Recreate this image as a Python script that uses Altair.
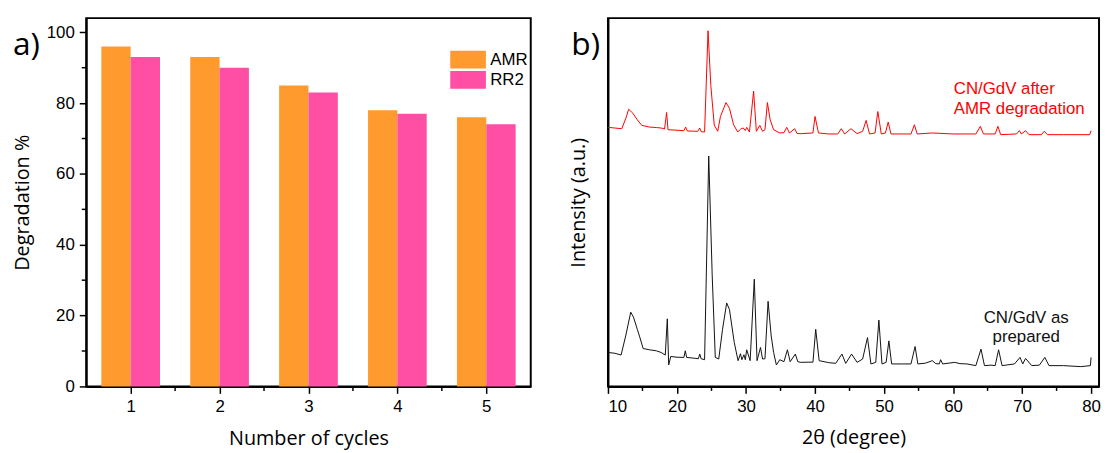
import altair as alt
import pandas as pd

# ---------------- panel a: degradation per cycle ----------------
cycles = [1, 2, 3, 4, 5]
amr = [96, 93, 85, 78, 76]
rr2 = [93, 90, 83, 77, 74]
series_names = ["AMR", "RR2"]
series_colors = ["#FF9A2F", "#FF4FA5"]

a_y_major = [0, 20, 40, 60, 80, 100]
a_y_minor = [10, 30, 50, 70, 90]
a_x_minor = [1.5, 2.5, 3.5, 4.5]

# ---------------- panel b: XRD patterns ----------------
theta_prep = [10.0, 11.0, 11.9, 12.6, 13.3, 13.7, 14.25, 14.6, 15.1, 16.0, 17.0, 17.7, 18.3, 18.6, 18.8,
              19.1, 20.0, 21.0, 21.2, 21.4, 22.5, 23.1, 23.3, 23.5, 24.0, 24.6, 25.1, 25.55, 26.05, 26.6,
              27.2, 27.6, 28.3, 28.85, 29.2, 29.4, 29.7, 29.9, 30.1, 30.6, 31.2, 31.6, 32.1, 32.4, 32.75,
              33.2, 33.65, 34.0, 34.4, 34.9, 35.5, 36.0, 36.4, 37.15, 37.5, 37.95, 39.0, 39.7, 40.1, 40.6,
              42.0, 43.0, 43.9, 44.45, 45.3, 46.1, 46.9, 47.6, 48.1, 48.8, 49.25, 49.7, 50.3, 50.7, 51.1,
              52.5, 53.9, 54.5, 54.9, 56.0, 57.0, 57.5, 58.0, 58.2, 58.5, 60.25, 61.0, 62.0, 63.3, 64.05,
              64.55, 65.5, 66.1, 66.6, 67.1, 68.9, 69.7, 70.1, 70.5, 71.4, 72.5, 73.3, 73.9, 76.0, 78.5,
              79.9, 80.0]
int_prep = [34.3, 33.5, 31.7, 52, 75, 70, 57.7, 50, 38.3, 37, 36, 34.3, 31.7, 68.3, 21.7,
            30.3, 29.5, 29.3, 36, 29.3, 28.5, 28, 32.7, 28, 27, 232.7, 112.7, 29.3, 27.7, 57.7,
            84.3, 77.7, 44.3, 26, 33, 27, 32, 27, 37, 26, 108.3, 26, 39.3, 27.7, 28,
            86, 51, 34.3, 21.7, 27, 25, 37, 25, 32.7, 25, 24.3, 24.5, 24.5, 57.7, 26,
            24, 23.3, 32.7, 23.3, 32.7, 24.3, 27.7, 49.3, 22.7, 24.3, 67, 22.7, 24.3, 46, 22.7,
            22.7, 22.7, 40.3, 22.7, 23.5, 26, 23, 22.7, 27, 22.7, 24.3, 23, 22.7, 21, 37.7,
            21, 21.5, 21, 37, 21, 22.7, 29.3, 22.7, 28.3, 21, 21.5, 29.3, 21, 21, 20,
            21, 29.3]

theta_after = [10.0, 11.0, 12.0, 12.6, 13.0, 13.6, 14.25, 14.9, 16.0, 17.0, 17.7, 18.2, 18.5, 18.7, 19.5,
               21.0, 21.25, 21.5, 23.0, 23.3, 23.5, 24.0, 24.5, 24.9, 25.4, 25.9, 26.3, 27.1, 27.6, 28.2,
               28.8, 29.3, 29.6, 29.9, 30.1, 30.5, 31.1, 31.5, 32.0, 32.4, 32.75, 33.1, 33.5, 34.0, 34.9,
               35.5, 35.9, 36.3, 37.05, 37.4, 38.0, 39.7, 40.0, 40.5, 42.0, 43.3, 43.8, 44.3, 45.2, 46.1,
               46.9, 47.4, 47.9, 48.7, 49.1, 49.6, 50.2, 50.6, 51.0, 53.9, 54.4, 54.8, 57.0, 60.0, 63.3,
               63.95, 64.4, 66.1, 66.5, 66.9, 69.2, 69.6, 69.9, 70.5, 71.0, 72.8, 73.2, 73.7, 76.0, 79.8,
               80.0]
int_after = [261.7, 261, 260.3, 271, 280, 276, 269.3, 263.7, 262, 261.5, 261, 260, 276.7, 259.3, 259,
             258.3, 262, 258, 257.7, 261, 257.3, 257, 359.3, 304, 264, 257.7, 272.7, 286.7, 281, 264.3,
             257, 260.5, 261, 258.5, 261.7, 257, 298.3, 257.7, 263.7, 257.7, 259.3, 286.7, 269.3, 259.3, 256,
             256.3, 261.7, 256, 260.3, 255.5, 255.3, 256, 272.7, 256, 255, 255, 260.3, 255, 260.3, 255.3,
             257.7, 268.7, 255, 256, 277.7, 255, 256, 267, 255, 255, 264.3, 255, 256, 255, 255,
             262.7, 255, 255, 262.7, 254.3, 255, 258.3, 255, 258.3, 254.3, 254.3, 257.7, 254.3, 254.3, 254.3,
             258.3]

b_x_major = [10, 20, 30, 40, 50, 60, 70, 80]
b_x_minor = [15, 25, 35, 45, 55, 65, 75]

notes_text = ["CN/GdV after", "AMR degradation", "CN/GdV as", "prepared"]
notes_theta = [60.1, 60.1, 70.6, 70.6]
notes_int = [300, 280, 69, 50]
notes_color = ["#FF0000", "#FF0000", "#111111", "#111111"]
notes_align = ["left", "left", "center", "center"]

# ---------------- build panel a ----------------
A_W, A_H = 449, 372
bar_df = pd.DataFrame({
    "cycle": cycles * 2,
    "series": [series_names[0]] * len(cycles) + [series_names[1]] * len(cycles),
    "value": amr + rr2,
})
ax_scale = alt.Scale(domain=[0.5, 5.5], nice=False, zero=False)
ay_scale = alt.Scale(domain=[0, 104], nice=False, zero=False)
ax_axis = alt.Axis(values=cycles, format="d", title="Number of cycles",
                   tickSize=7, labelPadding=5, titlePadding=15)
ay_axis = alt.Axis(values=a_y_major, format="d", title="Degradation %",
                   tickSize=7, labelPadding=5, titlePadding=14)

bars = alt.Chart(bar_df).transform_calculate(
    x0="datum.cycle + (datum.series === 'AMR' ? -0.33 : 0)",
    x1="datum.cycle + (datum.series === 'AMR' ? 0 : 0.33)",
).mark_bar().encode(
    x=alt.X("x0:Q", scale=ax_scale, axis=ax_axis),
    x2="x1:Q",
    y=alt.Y("value:Q", scale=ay_scale, axis=ay_axis),
    y2=alt.datum(0),
    color=alt.Color("series:N",
                    scale=alt.Scale(domain=series_names, range=series_colors),
                    legend=alt.Legend(title=None, orient="none", legendX=376.7, legendY=33,
                                      symbolType="M-2,-1H2V1H-2Z", symbolSize=324,
                                      symbolStrokeWidth=0, symbolOpacity=1,
                                      labelOffset=13.3, rowPadding=2.3, padding=0,
                                      labelFont="Liberation Sans", labelFontSize=17,
                                      labelColor="black")),
)

a_minor_x = alt.Chart(pd.DataFrame({"m": a_x_minor})).mark_rule(
    color="black", strokeWidth=1.5).encode(
    x=alt.X("m:Q", scale=ax_scale, axis=ax_axis),
    y=alt.value(A_H), y2=alt.value(A_H + 4.5))
a_minor_y = alt.Chart(pd.DataFrame({"m": a_y_minor})).mark_rule(
    color="black", strokeWidth=1.5).encode(
    y=alt.Y("m:Q", scale=ay_scale, axis=ay_axis),
    x=alt.value(0), x2=alt.value(-4.5))
a_label = alt.Chart(pd.DataFrame({"t": ["a)"]})).mark_text(
    align="left", baseline="alphabetic", font="Open Sans", fontSize=32, color="black").encode(
    x=alt.value(-74), y=alt.value(37), text="t:N")

panel_a = alt.layer(bars, a_minor_x, a_minor_y, a_label).properties(width=A_W, height=A_H)

# ---------------- build panel b ----------------
B_W, B_H = 496, 372
prep_df = pd.DataFrame({"theta": theta_prep, "intensity": int_prep})
after_df = pd.DataFrame({"theta": theta_after, "intensity": int_after})
bx_scale = alt.Scale(domain=[10, 81.15], nice=False, zero=False)
by_scale = alt.Scale(domain=[0, 372], nice=False, zero=False)
bx_axis = alt.Axis(values=b_x_major, format="d", title="2θ (degree)",
                   tickSize=7, labelPadding=5, titlePadding=14)
by_axis = alt.Axis(title="Intensity (a.u.)", labels=False, ticks=False, titlePadding=20)

x_enc = alt.X("theta:Q", scale=bx_scale, axis=bx_axis)
y_enc = alt.Y("intensity:Q", scale=by_scale, axis=by_axis)

line_prep = alt.Chart(prep_df).mark_line(color="#111111", strokeWidth=1).encode(x=x_enc, y=y_enc)
line_after = alt.Chart(after_df).mark_line(color="#FF0000", strokeWidth=1).encode(x=x_enc, y=y_enc)

b_minor_x = alt.Chart(pd.DataFrame({"m": b_x_minor})).mark_rule(
    color="black", strokeWidth=1.5).encode(
    x=alt.X("m:Q", scale=bx_scale, axis=bx_axis),
    y=alt.value(B_H), y2=alt.value(B_H + 4.5))

notes_df = pd.DataFrame({"text": notes_text, "theta": notes_theta, "intensity": notes_int,
                         "color": notes_color, "align": notes_align})
notes_left = alt.Chart(notes_df).transform_filter("datum.align === 'left'").mark_text(
    align="left", baseline="middle", font="Liberation Sans", fontSize=17).encode(
    x=x_enc, y=y_enc,
    text="text:N", color=alt.Color("color:N", scale=None))
notes_center = alt.Chart(notes_df).transform_filter("datum.align === 'center'").mark_text(
    align="center", baseline="middle", font="Liberation Sans", fontSize=17).encode(
    x=x_enc, y=y_enc,
    text="text:N", color=alt.Color("color:N", scale=None))

b_label = alt.Chart(pd.DataFrame({"t": ["b)"]})).mark_text(
    align="left", baseline="alphabetic", font="Open Sans", fontSize=32, color="black").encode(
    x=alt.value(-37), y=alt.value(37), text="t:N")

panel_b = alt.layer(line_prep, line_after, b_minor_x, notes_left, notes_center, b_label).properties(
    width=B_W, height=B_H)

chart = alt.hconcat(panel_a, panel_b, spacing=36).resolve_scale(color="independent").properties(
    padding={"left": 3, "top": 7, "right": 0, "bottom": 0}
).configure_view(
    stroke="black", strokeWidth=2
).configure_axis(
    grid=False, domainColor="black", domainWidth=2, tickColor="black", tickWidth=1.5,
    labelColor="black", titleColor="black", labelFont="Liberation Sans", labelFontSize=17,
    titleFont="Open Sans", titleFontSize=20, titleFontWeight="normal"
)

chart.save("out.html", embed_options={"renderer": "svg", "actions": False})
